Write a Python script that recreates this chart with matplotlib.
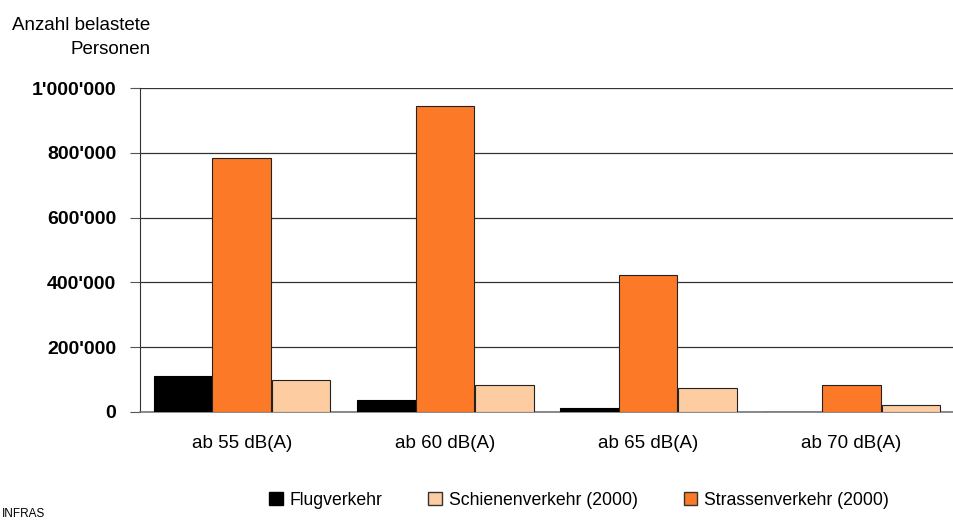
import numpy as np
import matplotlib.pyplot as plt
from matplotlib.ticker import FuncFormatter
from matplotlib.patches import Patch

plt.rcParams['font.family'] = ['Liberation Sans', 'DejaVu Sans']

# Daten
kategorien = ["ab 55 dB(A)", "ab 60 dB(A)", "ab 65 dB(A)", "ab 70 dB(A)"]
flugverkehr = [110000, 36000, 11000, 0]
schienenverkehr = [97000, 82000, 73000, 20000]
strassenverkehr = [783000, 944000, 423000, 82000]

c_flug = "#000000"
c_schiene = "#FDCCA1"
c_strasse = "#FC7A27"

fig = plt.figure(figsize=(9.54, 5.22), dpi=100)
ax = fig.add_axes([0.1468, 0.2113, 0.852, 0.6195])

x = np.arange(len(kategorien))
w = 0.288
ax.bar(x - w, flugverkehr, w, color=c_flug, edgecolor="black", linewidth=0.8, zorder=3)
ax.bar(x, strassenverkehr, w, color=c_strasse, edgecolor="#222222", linewidth=0.8, zorder=3)
ax.bar(x + w + 0.005, schienenverkehr, w, color=c_schiene, edgecolor="#222222", linewidth=0.8, zorder=3)

ax.set_xlim(-0.5, 3.5)
ax.set_ylim(0, 1000000)
ax.set_yticks(np.arange(0, 1000001, 200000))
ax.yaxis.set_major_formatter(FuncFormatter(lambda v, p: f"{int(v):,}".replace(",", "'")))
ax.grid(axis="y", color="#333333", linewidth=0.9, zorder=0)

for lbl in ax.get_yticklabels():
    lbl.set_fontweight("bold")
ax.tick_params(axis="y", labelsize=14, length=7, width=0.8, color="#555555", pad=10)
ax.set_xticks(x)
ax.set_xticklabels(kategorien)
ax.tick_params(axis="x", length=0, labelsize=13.5, pad=17)

for s in ["top", "right"]:
    ax.spines[s].set_visible(False)
ax.spines["left"].set_color("#333333")
ax.spines["bottom"].set_color("#777777")
ax.spines["bottom"].set_linewidth(1.2)

fig.text(0.158, 0.952, "Anzahl belastete", ha="right", va="center", fontsize=13.5)
fig.text(0.158, 0.906, "Personen", ha="right", va="center", fontsize=13.5)

handles = [Patch(facecolor=c_flug, edgecolor="black", label="Flugverkehr"),
           Patch(facecolor=c_schiene, edgecolor="#333333", label="Schienenverkehr (2000)"),
           Patch(facecolor=c_strasse, edgecolor="#333333", label="Strassenverkehr (2000)")]
fig.legend(handles=handles, loc="center", bbox_to_anchor=(0.607, 0.042), ncol=3, frameon=False,
           fontsize=12.7, handlelength=0.75, handleheight=0.75, handletextpad=0.4, columnspacing=2.6)

fig.text(0.002, 0.003, "INFRAS", ha="left", va="bottom", fontsize=8.5)

fig.savefig("out.png", dpi=100)
